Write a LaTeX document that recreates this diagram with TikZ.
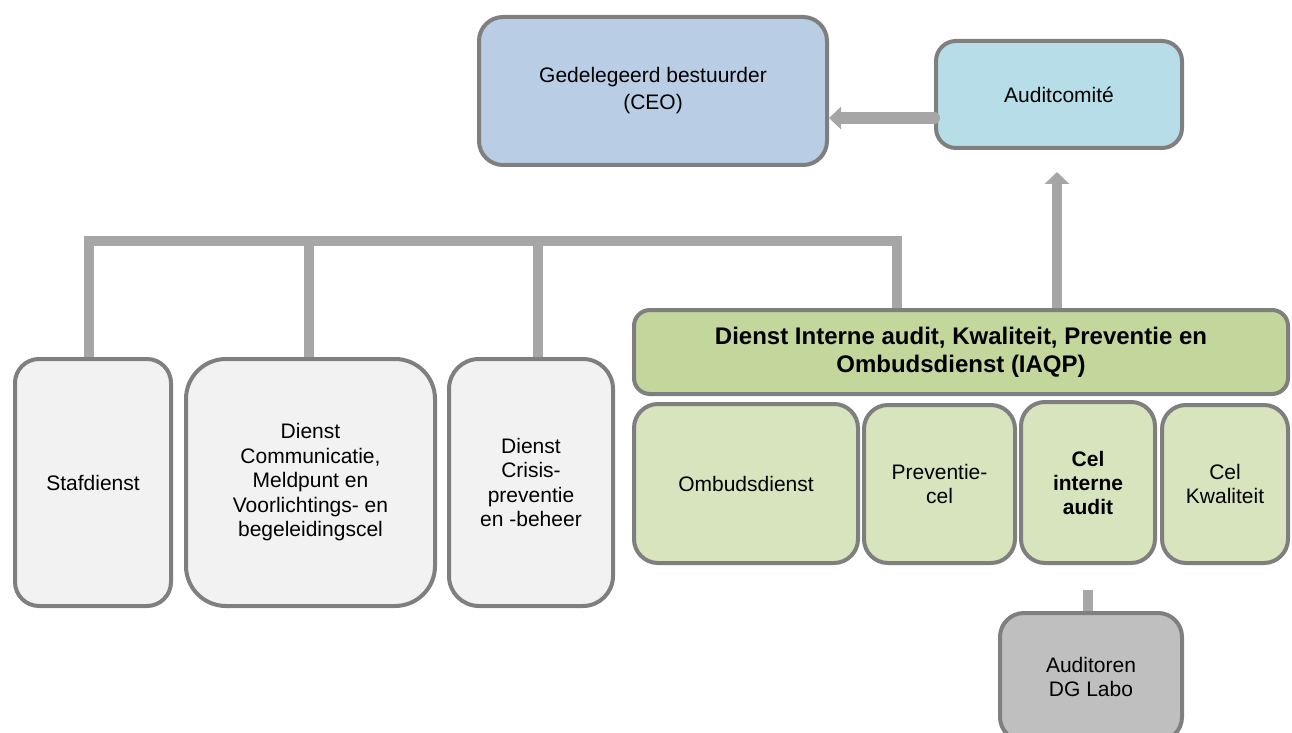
\documentclass[tikz,border=0pt]{standalone}
\usepackage{fontspec}
\setmainfont{Liberation Sans}
\usetikzlibrary{arrows.meta,positioning,calc}
\definecolor{OrgBorder}{HTML}{7F7F7F}
\definecolor{OrgLink}{HTML}{A6A6A6}
\definecolor{OrgBlue}{HTML}{B9CDE5}
\definecolor{OrgCyan}{HTML}{B7DEE8}
\definecolor{OrgPale}{HTML}{F2F2F2}
\definecolor{OrgGreen}{HTML}{C3D69B}
\definecolor{OrgLight}{HTML}{D7E4BD}
\definecolor{OrgGray}{HTML}{BFBFBF}

\begin{document}
\begin{tikzpicture}[
    x=0.5pt, y=-0.5pt,
    unit/.style={
      draw=OrgBorder,
      line width=2pt,
      fill=#1,
      rounded corners=12pt,
      inner sep=2pt,
      align=center,
      font=\fontsize{10.5}{12.25}\selectfont
    },
    link/.style={
      draw=OrgLink,
      line width=5pt
    },
    uparrow/.style={
      link,
      -{Triangle[length=6pt,width=12pt]}
    },
    sidearrow/.style={
      draw=OrgLink,
      line width=6pt,
      line cap=round,
      -{Triangle[length=6pt,width=11pt]}
    }
  ]
  \useasboundingbox (0,0) rectangle (1292,733);

  % top level
  \node[unit=OrgBlue, minimum width=174pt, minimum height=74pt,
        font=\fontsize{10.5}{13.5}\selectfont] (ceo) at (653,91)
    {Gedelegeerd bestuurder\\(CEO)};
  \node[unit=OrgCyan, minimum width=123pt, minimum height=53.5pt,
        rounded corners=10pt] (audit) at (1059,94.5) {Auditcomité};

  % staff services
  \node[unit=OrgPale, minimum width=78pt, minimum height=123.5pt] (staf)
    at (93,482.5) {Stafdienst};
  \node[unit=OrgPale, minimum width=124.5pt, minimum height=123.5pt,
        rounded corners=20pt] (comm) at (310.5,482.5)
    {Dienst\\Communicatie,\\Meldpunt en\\Voorlichtings- en\\begeleidingscel};
  \node[unit=OrgPale, minimum width=82pt, minimum height=123.5pt,
        rounded corners=15pt] (crisis) at (531,482.5)
    {Dienst\\Crisis-\\preventie\\en -beheer};

  % IAQP
  \node[unit=OrgGreen, minimum width=327pt, minimum height=42pt,
        rounded corners=8pt, font=\bfseries\fontsize{12}{14}\selectfont]
    (iaqp) at (961,352)
    {Dienst Interne audit, Kwaliteit, Preventie en\\Ombudsdienst (IAQP)};
  \node[unit=OrgLight, minimum width=112pt, minimum height=79.5pt] (ombuds)
    at (746,483.5) {Ombudsdienst};
  \node[unit=OrgLight, minimum width=75.5pt, minimum height=79pt] (prev)
    at (939.5,484) {Preventie-\\cel};
  \node[unit=OrgLight, minimum width=67pt, minimum height=80.5pt,
        font=\bfseries\fontsize{10.5}{12}\selectfont] (cia)
    at (1088,482.5) {Cel\\interne\\audit};
  \node[unit=OrgLight, minimum width=63pt, minimum height=79pt] (kwal)
    at (1225,484) {Cel\\Kwaliteit};
  \node[unit=OrgGray, minimum width=91pt, minimum height=64pt] (labo)
    at (1091,677) {Auditoren\\DG Labo};

  % connectors
  \coordinate (j1) at (89,241);
  \coordinate (j2) at (308.5,241);
  \coordinate (j3) at (538,241);
  \coordinate (j4) at (897,241);
  \draw[link] (j1 |- staf.north) -- (j1) -- (j4) -- (j4 |- iaqp.north);
  \draw[link] (j2) -- (j2 |- comm.north);
  \draw[link] (j3) -- (j3 |- crisis.north);

  \draw[uparrow, shorten >=11pt] (iaqp.north -| 1057,0) -- (audit.south -| 1057,0);
  \draw[sidearrow] ([yshift=-11.75pt]audit.west) -- ([yshift=-11.75pt]audit.west -| ceo.east);
  \draw[link] ([yshift=-12.5pt]cia.south) -- (cia.south |- labo.north);

\end{tikzpicture}
\end{document}
